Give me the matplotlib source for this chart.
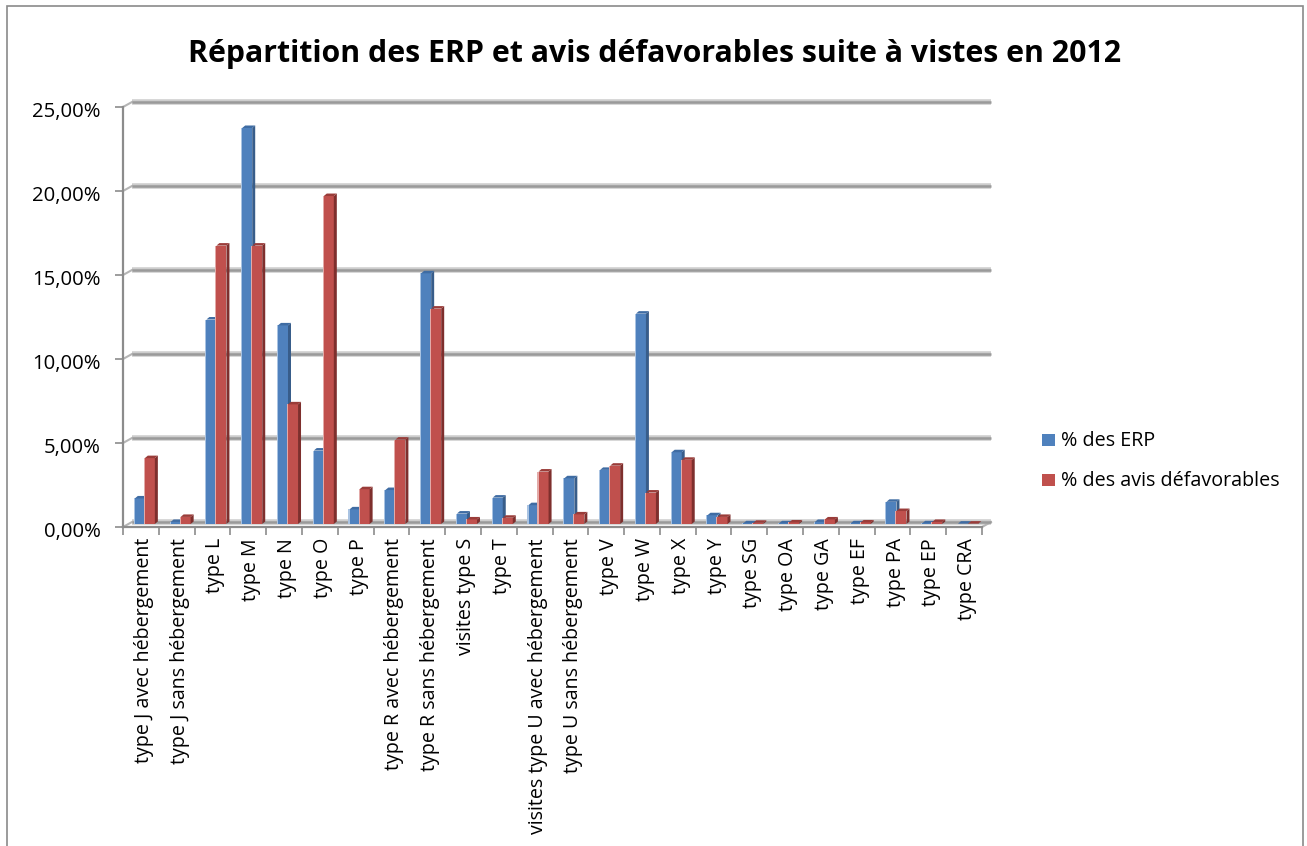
import matplotlib
matplotlib.use('Agg')
import matplotlib.pyplot as plt
from matplotlib.patches import Polygon, Rectangle
from matplotlib.ticker import FuncFormatter
from matplotlib.transforms import ScaledTranslation

plt.rcParams['font.family'] = ['Open Sans', 'DejaVu Sans']

categories = ['type J avec hébergement', 'type J sans hébergement', 'type L', 'type M',
              'type N', 'type O', 'type P', 'type R avec hébergement',
              'type R sans hébergement', 'visites type S', 'type T',
              'visites type U avec hébergement', 'type U sans hébergement', 'type V',
              'type W', 'type X', 'type Y', 'type SG', 'type OA', 'type GA', 'type EF',
              'type PA', 'type EP', 'type CRA']
erp = [1.7, 0.3, 12.35, 23.75, 12.0, 4.55, 1.05, 2.2, 15.1, 0.8, 1.75, 1.3, 2.9, 3.4,
       12.7, 4.45, 0.7, 0.22, 0.22, 0.3, 0.22, 1.5, 0.22, 0.2]
avis = [4.1, 0.6, 16.75, 16.75, 7.3, 19.7, 2.25, 5.2, 13.0, 0.45, 0.55, 3.3, 0.75, 3.65,
        2.05, 4.0, 0.6, 0.25, 0.27, 0.45, 0.27, 0.95, 0.3, 0.2]
yticks = [0, 5, 10, 15, 20, 25]

W, H = 1307, 846
fig = plt.figure(figsize=(W / 100, H / 100), dpi=100)
fig.add_artist(Rectangle((6.5 / W, -0.01), (1303 - 6.5) / W, 1.01 - 6 / H, transform=fig.transFigure,
                         fc='white', ec='#8a8a8a', lw=1.2, zorder=-1))
ax = fig.add_axes([123 / W, 1 - 527 / H, (982 - 123) / W, (527 - 107) / H])
ax.set_xlim(0, 24)
ax.set_ylim(0, 25)
ax.patch.set_alpha(0)

# fake 3D depth, in data units
depth_x = 9 / 35.8
depth_y = 5 / 16.8
bar_dx = 3 / 35.8
bar_dy = 2.5 / 16.8
base = 3 / 16.8
bar_w = 0.28
grid_c = '#8c8c8c'

for y in yticks:
    ax.plot([depth_x, 24 + depth_x], [y + depth_y, y + depth_y], color='#cdcdcd', lw=4,
            clip_on=False, zorder=1, solid_capstyle='butt')
    ax.plot([depth_x, 24 + depth_x], [y + depth_y, y + depth_y], color='#9a9a9a', lw=1.8,
            clip_on=False, zorder=1.1, solid_capstyle='butt')
    ax.plot([0, depth_x], [y, y + depth_y], color='#b5b5b5', lw=1.5, clip_on=False, zorder=1)
ax.plot([24, 24 + depth_x], [0, depth_y], color='#b5b5b5', lw=1.5, clip_on=False, zorder=1)


def draw_bars(values, offset, front, side, top, light, z):
    xs = [i + offset for i in range(len(values))]
    ax.bar(xs, [v - base for v in values], bottom=base, width=bar_w, align='edge',
           color=front, zorder=z, clip_on=False)
    for x, v in zip(xs, values):
        ax.add_patch(Polygon([(x + bar_w, base), (x + bar_w + bar_dx, base + bar_dy),
                              (x + bar_w + bar_dx, v + bar_dy), (x + bar_w, v)],
                             fc=side, ec='none', zorder=z, clip_on=False))
        ax.add_patch(Polygon([(x, v), (x + bar_dx, v + bar_dy),
                              (x + bar_w + bar_dx, v + bar_dy), (x + bar_w, v)],
                             fc=top, ec='none', zorder=z, clip_on=False))
        ax.add_patch(Rectangle((x - 0.03, base), 0.03, v - base, fc=light, ec='none',
                               zorder=z - 0.1, clip_on=False))


draw_bars(erp, 0.33, '#4F81BD', '#385D8A', '#3F6CA3', '#A9C3E2', 3)
draw_bars(avis, 0.61, '#C0504D', '#7E2F2D', '#9A3C39', '#E3AAA8', 4)

# axis lines and ticks
for s in ['top', 'right']:
    ax.spines[s].set_visible(False)
for s in ['left', 'bottom']:
    ax.spines[s].set_color(grid_c)
    ax.spines[s].set_linewidth(1.6)
ax.set_yticks(yticks)
ax.yaxis.set_major_formatter(FuncFormatter(lambda v, pos: f'{v:.2f}%'.replace('.', ',')))
ax.tick_params(axis='y', length=6, width=1.2, color=grid_c, labelsize=14.6, pad=10, labelcolor='black')
ax.set_xticks(range(25))
ax.set_xticklabels([])
ax.tick_params(axis='x', which='major', length=6, width=1.2, color=grid_c)
ax.set_xticks([i + 0.5 for i in range(24)], minor=True)
ax.set_xticklabels(categories, minor=True, rotation=90, fontsize=14.1, ha='center', va='top')
ax.tick_params(axis='x', which='minor', length=0, pad=8)

# nudge tick labels to where they sit in the original
for lab in ax.get_yticklabels():
    lab.set_transform(lab.get_transform() + ScaledTranslation(0, -2.5 / 100, fig.dpi_scale_trans))
for lab in ax.get_xticklabels(minor=True):
    lab.set_transform(lab.get_transform() + ScaledTranslation(3 / 100, 0, fig.dpi_scale_trans))

fig.text(654.5 / W, 1 - 54 / H, 'Répartition des ERP et avis défavorables suite à vistes en 2012',
         fontsize=21.8, fontweight='bold', ha='center', va='center')

# legend
for name, c, y in [('% des ERP', '#4F81BD', 440), ('% des avis défavorables', '#C0504D', 480)]:
    fig.add_artist(Rectangle((1042 / W, 1 - (y + 6) / H), 13 / W, 12 / H, transform=fig.transFigure,
                             fc=c, ec='none'))
    fig.text(1061 / W, 1 - (y + 1) / H, name, fontsize=14.2, ha='left', va='center')

fig.savefig('out.png', dpi=100)
